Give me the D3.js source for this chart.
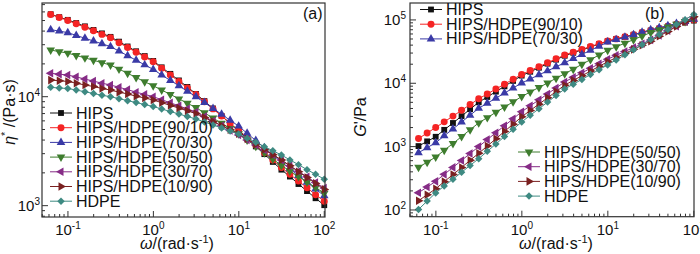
<!DOCTYPE html>
<html>
<head>
<meta charset="utf-8">
<script src="https://cdn.jsdelivr.net/npm/d3@7"></script>
<style>
  body { margin: 0; background: #fff; }
  svg { display: block; font-family: "Liberation Sans", Arial, sans-serif; }
</style>
</head>
<body>
<svg id="chart" width="700" height="254"></svg>
<script>
// angular frequency, rad/s
const omega = [0.0628, 0.0791, 0.0995, 0.125, 0.158, 0.199, 0.25, 0.315, 0.396, 0.499, 0.628, 0.791, 0.995,
  1.25, 1.58, 1.99, 2.5, 3.15, 3.96, 4.99, 6.28, 7.91, 9.95, 12.5, 15.8, 19.9, 25, 31.5, 39.6, 49.9, 62.8, 79.1, 100];

const names = ["HIPS", "HIPS/HDPE(90/10)", "HIPS/HDPE(70/30)", "HIPS/HDPE(50/50)",
  "HIPS/HDPE(30/70)", "HIPS/HDPE(10/90)", "HDPE"];

// (a) complex viscosity, Pa·s
const etaHIPS = [57100, 53700, 50700, 47400, 44200, 41000, 38100, 35400, 32000, 28900, 26100, 23600, 21300, 18600, 16200, 14100, 12300, 10600, 9120, 7800, 6670, 5690, 4850, 4120, 3500, 2970, 2520, 2140, 1850, 1580, 1360, 1170, 1010];
const eta9010 = [56900, 53300, 50100, 46600, 43300, 40200, 37300, 34700, 31300, 28300, 25600, 23100, 20900, 18200, 15800, 13800, 12000, 10500, 8990, 7730, 6640, 5700, 4900, 4190, 3580, 3060, 2620, 2240, 1940, 1680, 1460, 1260, 1100];
const eta7030 = [41200, 40000, 38700, 36500, 34400, 32400, 30600, 28800, 26200, 23800, 21600, 19600, 17800, 15800, 14100, 12600, 11200, 10000, 8830, 7800, 6890, 6080, 5370, 4610, 3960, 3400, 2920, 2510, 2180, 1890, 1640, 1420, 1230];
const eta5050 = [26800, 25900, 25100, 23900, 22700, 21600, 20500, 19500, 17900, 16400, 15000, 13700, 12600, 11500, 10500, 9550, 8710, 7940, 7110, 6370, 5700, 5110, 4570, 4000, 3500, 3060, 2680, 2340, 2080, 1850, 1650, 1470, 1300];
const eta3070 = [16400, 16100, 15800, 15200, 14500, 13900, 13300, 12800, 12200, 11600, 11000, 10500, 10000, 9380, 8790, 8240, 7730, 7240, 6580, 5970, 5410, 4910, 4460, 4010, 3610, 3240, 2920, 2620, 2330, 2070, 1840, 1630, 1450];
const eta1090 = [14200, 14000, 13800, 13300, 12800, 12400, 11900, 11500, 11000, 10600, 10100, 9730, 9330, 8810, 8320, 7850, 7410, 7000, 6430, 5900, 5420, 4980, 4570, 4090, 3660, 3280, 2940, 2630, 2320, 2050, 1810, 1600, 1410];
const etaHDPE = [12200, 12000, 11900, 11500, 11100, 10700, 10300, 10000, 9590, 9200, 8830, 8470, 8130, 7710, 7310, 6930, 6580, 6240, 5860, 5500, 5160, 4840, 4550, 4160, 3810, 3480, 3190, 2920, 2630, 2380, 2140, 1940, 1750];

// (b) storage modulus, Pa
const gHIPS = [1020, 1210, 1430, 1840, 2360, 3030, 3900, 5010, 6080, 7380, 8950, 10900, 13200, 15200, 17600, 20400, 23600, 27200, 30300, 33700, 37400, 41600, 46200, 50000, 54000, 58300, 63000, 68100, 73100, 78700, 84500, 91000, 97700];
const g9010 = [1340, 1640, 2000, 2460, 3030, 3740, 4610, 5690, 6790, 8110, 9680, 11600, 13800, 15900, 18300, 21100, 24300, 28000, 31000, 34300, 38000, 42100, 46600, 50200, 54200, 58600, 63200, 68200, 73600, 79400, 85900, 92700, 100000];
const g7030 = [802, 962, 1150, 1480, 1900, 2440, 3130, 4030, 4840, 5820, 7000, 8410, 10100, 11700, 13600, 15700, 18200, 21100, 24500, 28500, 33100, 38500, 44700, 48900, 53500, 58500, 64000, 70000, 75500, 81300, 87700, 94400, 102000];
const g5050 = [471, 568, 684, 877, 1120, 1440, 1850, 2370, 2870, 3480, 4210, 5090, 6170, 7280, 8590, 10100, 12000, 14100, 16700, 19900, 23600, 27900, 33100, 37700, 42900, 48800, 55500, 63100, 69800, 77300, 85500, 94600, 105000];
const g3070 = [187, 230, 283, 365, 470, 605, 778, 1000, 1290, 1660, 2140, 2750, 3550, 4410, 5470, 6790, 8430, 10500, 12400, 14600, 17200, 20300, 24000, 27600, 31800, 36600, 42100, 48400, 57100, 67600, 79800, 94400, 111000];
const g1090 = [140, 174, 216, 280, 362, 469, 607, 785, 1020, 1330, 1740, 2260, 2950, 3720, 4680, 5890, 7410, 9330, 11100, 13100, 15600, 18500, 21900, 25400, 29500, 34300, 39800, 46200, 55200, 65900, 78700, 94000, 112000];
const gHDPE = [102, 138, 186, 239, 306, 393, 504, 646, 843, 1100, 1440, 1880, 2450, 3120, 3960, 5040, 6400, 8130, 9680, 11500, 13700, 16400, 19500, 23400, 28200, 33900, 40700, 49000, 58700, 70500, 84500, 101000, 122000];

const colors = ["#111111", "#f52424", "#3a3aa6", "#3e7d2e", "#862c86", "#7a2020", "#3e8a82"];
// symbol type and rotation per series
const shapes = [
  { type: d3.symbolSquare, size: 34, rot: 0 },
  { type: d3.symbolCircle, size: 38, rot: 0 },
  { type: d3.symbolTriangle, size: 32, rot: 0 },
  { type: d3.symbolTriangle, size: 32, rot: 180 },
  { type: d3.symbolTriangle, size: 32, rot: -90 },
  { type: d3.symbolTriangle, size: 32, rot: 90 },
  { type: d3.symbolSquare, size: 28, rot: 45 }
];

const svg = d3.select("#chart");

function symbolAt(g, i, cx, cy) {
  const s = shapes[i];
  g.append("path")
    .attr("d", d3.symbol().type(s.type).size(s.size)())
    .attr("transform", `translate(${cx},${cy}) rotate(${s.rot})`)
    .attr("fill", colors[i]);
}

function powLabel(sel, exp) {
  sel.append("tspan").text("10");
  sel.append("tspan").attr("font-size", 10).attr("dy", -6).text(exp);
}

const isDecade = (t) => Math.abs(Math.log10(t) - Math.round(Math.log10(t))) < 1e-6;

function drawPanel(cfg) {
  const x = d3.scaleLog().domain(cfg.xDomain).range(cfg.xRange);
  const y = d3.scaleLog().domain(cfg.yDomain).range(cfg.yRange);
  const [x0, x1] = cfg.xRange;
  const [y0, y1] = cfg.yRange; // y0 bottom, y1 top
  const g = svg.append("g");

  // series
  cfg.series.forEach((vals, i) => {
    const pts = omega.map((w, k) => [w, vals[k]]);
    g.append("path")
      .attr("d", d3.line().x(d => x(d[0])).y(d => y(d[1]))(pts))
      .attr("fill", "none")
      .attr("stroke", colors[i])
      .attr("stroke-width", 1);
    pts.forEach(d => symbolAt(g, i, x(d[0]), y(d[1])));
  });

  // frame
  g.append("rect")
    .attr("x", x0).attr("y", y1)
    .attr("width", x1 - x0).attr("height", y0 - y1)
    .attr("fill", "none").attr("stroke", "#333").attr("stroke-width", 1.2);

  // x ticks (inward)
  x.ticks().forEach(t => {
    const major = isDecade(t);
    g.append("line")
      .attr("x1", x(t)).attr("x2", x(t))
      .attr("y1", y0).attr("y2", y0 - (major ? 6 : 3))
      .attr("stroke", "#333").attr("stroke-width", 1);
    if (major) {
      const lab = g.append("text")
        .attr("x", x(t)).attr("y", 235)
        .attr("text-anchor", "middle")
        .attr("font-size", 15).attr("fill", "#111");
      powLabel(lab, String(Math.round(Math.log10(t))));
    }
  });

  // y ticks (inward)
  y.ticks().forEach(t => {
    const major = isDecade(t);
    g.append("line")
      .attr("x1", x0).attr("x2", x0 + (major ? 6 : 3))
      .attr("y1", y(t)).attr("y2", y(t))
      .attr("stroke", "#333").attr("stroke-width", 1);
    if (major) {
      const lab = g.append("text")
        .attr("x", x0 - cfg.yLabelGap).attr("y", y(t) + 5)
        .attr("text-anchor", "end")
        .attr("font-size", 15).attr("fill", "#111");
      powLabel(lab, String(Math.round(Math.log10(t))));
    }
  });

  // panel tag
  g.append("text")
    .attr("x", cfg.tag[0]).attr("y", cfg.tag[1])
    .attr("font-size", 16).attr("fill", "#111")
    .text(cfg.tagText);

  // x title
  const xt = g.append("text")
    .attr("x", cfg.xTitleX).attr("y", 249)
    .attr("text-anchor", "middle")
    .attr("font-size", 16).attr("fill", "#111");
  xt.append("tspan").attr("font-style", "italic").text("ω");
  xt.append("tspan").text("/(rad·s");
  xt.append("tspan").attr("font-size", 11).attr("dy", -6).text("-1");
  xt.append("tspan").attr("dy", 6).text(")");

  // y title
  const yt = g.append("text")
    .attr("transform", `translate(${cfg.yTitle[0]},${cfg.yTitle[1]}) rotate(-90)`)
    .attr("text-anchor", "middle")
    .attr("font-size", 16).attr("fill", "#111");
  cfg.yTitleParts(yt);

  // legend
  cfg.legend.forEach(grp => {
    grp.items.forEach((i, r) => {
      const ly = grp.y + r * 14.7;
      g.append("line")
        .attr("x1", grp.x).attr("x2", grp.x + 22)
        .attr("y1", ly).attr("y2", ly)
        .attr("stroke", colors[i]).attr("stroke-width", 1);
      symbolAt(g, i, grp.x + 11, ly);
      g.append("text")
        .attr("x", grp.x + 26).attr("y", ly + 5.5)
        .attr("font-size", 16).attr("fill", "#111")
        .text(names[i]);
    });
  });
}

drawPanel({
  xDomain: [0.0497, 102], xRange: [42, 325],
  yDomain: [787, 72400], yRange: [217, 3],
  yLabelGap: 2,
  series: [etaHIPS, eta9010, eta7030, eta5050, eta3070, eta1090, etaHDPE],
  tag: [303, 19], tagText: "(a)",
  xTitleX: 177,
  yTitle: [15, 112],
  yTitleParts: (t) => {
    t.append("tspan").attr("font-style", "italic").text("η");
    t.append("tspan").attr("font-size", 11).attr("dy", -6).text("*");
    t.append("tspan").attr("dy", 6).text(" /(Pa·s)");
  },
  legend: [{ x: 50, y: 113, items: [0, 1, 2, 3, 4, 5, 6] }]
});

drawPanel({
  xDomain: [0.05, 100.5], xRange: [410, 694],
  yDomain: [78.3, 185000], yRange: [216.7, 3],
  yLabelGap: 4,
  series: [gHIPS, g9010, g7030, g5050, g3070, g1090, gHDPE],
  tag: [645, 19], tagText: "(b)",
  xTitleX: 556,
  yTitle: [366, 117],
  yTitleParts: (t) => {
    t.append("tspan").attr("font-style", "italic").text("G");
    t.append("tspan").text("'/Pa");
  },
  legend: [
    { x: 420, y: 9.5, items: [0, 1, 2] },
    { x: 518, y: 152, items: [3, 4, 5, 6] }
  ]
});
</script>
</body>
</html>
